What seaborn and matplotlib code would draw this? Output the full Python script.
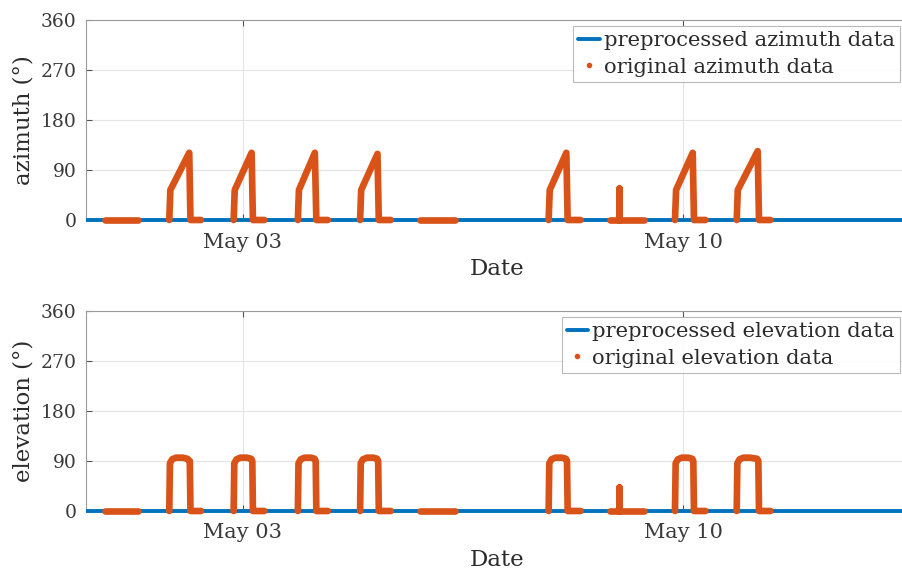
import numpy as np
import pandas as pd
import matplotlib
matplotlib.use("Agg")
import matplotlib.pyplot as plt
import matplotlib.dates as mdates
from matplotlib.lines import Line2D
import seaborn as sns

# ---- original azimuth samples (segment id, timestamp, degrees) ----
az_seg = [0, 0,
          1, 1, 1, 1, 1,
          2, 2, 2, 2, 2,
          3, 3, 3, 3, 3,
          4, 4, 4, 4, 4,
          5, 5,
          6, 6, 6, 6, 6,
          7, 7, 7, 7, 7, 7,
          8, 8, 8, 8, 8,
          9, 9, 9, 9, 9,
          10, 10]
az_time = ["2021-04-30 19:25", "2021-05-01 08:00",
           "2021-05-01 19:55", "2021-05-01 20:20", "2021-05-02 03:32", "2021-05-02 04:00", "2021-05-02 08:00",
           "2021-05-02 20:28", "2021-05-02 20:53", "2021-05-03 03:19", "2021-05-03 03:49", "2021-05-03 08:11",
           "2021-05-03 20:57", "2021-05-03 21:22", "2021-05-04 03:26", "2021-05-04 04:00", "2021-05-04 08:23",
           "2021-05-04 20:41", "2021-05-04 21:06", "2021-05-05 03:19", "2021-05-05 03:49", "2021-05-05 08:23",
           "2021-05-05 19:37", "2021-05-06 08:46",
           "2021-05-07 20:35", "2021-05-07 21:00", "2021-05-08 03:20", "2021-05-08 03:50", "2021-05-08 08:46",
           "2021-05-08 20:00", "2021-05-08 23:22", "2021-05-08 23:22", "2021-05-08 23:23", "2021-05-08 23:23", "2021-05-09 09:00",
           "2021-05-09 20:46", "2021-05-09 21:11", "2021-05-10 03:32", "2021-05-10 04:00", "2021-05-10 08:23",
           "2021-05-10 20:18", "2021-05-10 20:43", "2021-05-11 04:18", "2021-05-11 04:48", "2021-05-11 09:10",
           "2021-05-12 04:50", "2021-05-12 05:00"]
az_value = [0, 0,
            0, 54, 121, 0, 0,
            0, 54, 121, 0, 0,
            0, 54, 121, 0, 0,
            0, 54, 119, 0, 0,
            0, 0,
            0, 54, 121, 0, 0,
            0, 0, 57, 57, 0, 0,
            0, 54, 121, 0, 0,
            0, 54, 124, 0, 0,
            0, 0]

# ---- original elevation samples ----
el_seg = [0, 0,
          1, 1, 1, 1, 1, 1, 1, 1, 1,
          2, 2, 2, 2, 2, 2, 2, 2, 2,
          3, 3, 3, 3, 3, 3, 3, 3, 3,
          4, 4, 4, 4, 4, 4, 4, 4, 4,
          5, 5,
          6, 6, 6, 6, 6, 6, 6, 6, 6,
          7, 7, 7, 7, 7, 7,
          8, 8, 8, 8, 8, 8, 8, 8, 8,
          9, 9, 9, 9, 9, 9, 9, 9, 9,
          10, 10]
el_time = ["2021-04-30 19:25", "2021-05-01 08:00",
           "2021-05-01 19:55", "2021-05-01 20:10", "2021-05-01 21:00", "2021-05-01 22:30", "2021-05-02 01:00", "2021-05-02 02:50", "2021-05-02 03:45", "2021-05-02 04:00", "2021-05-02 08:00",
           "2021-05-02 20:28", "2021-05-02 20:43", "2021-05-02 21:33", "2021-05-02 23:03", "2021-05-03 01:33", "2021-05-03 03:10", "2021-05-03 03:35", "2021-05-03 03:49", "2021-05-03 08:11",
           "2021-05-03 20:57", "2021-05-03 21:12", "2021-05-03 22:02", "2021-05-03 23:32", "2021-05-04 02:02", "2021-05-04 03:20", "2021-05-04 03:45", "2021-05-04 04:00", "2021-05-04 08:23",
           "2021-05-04 20:41", "2021-05-04 20:56", "2021-05-04 21:46", "2021-05-04 23:16", "2021-05-05 01:46", "2021-05-05 03:10", "2021-05-05 03:35", "2021-05-05 03:49", "2021-05-05 08:23",
           "2021-05-05 19:37", "2021-05-06 08:46",
           "2021-05-07 20:35", "2021-05-07 20:50", "2021-05-07 21:40", "2021-05-07 23:10", "2021-05-08 01:40", "2021-05-08 03:10", "2021-05-08 03:35", "2021-05-08 03:50", "2021-05-08 08:46",
           "2021-05-08 20:00", "2021-05-08 23:22", "2021-05-08 23:22", "2021-05-08 23:23", "2021-05-08 23:23", "2021-05-09 09:00",
           "2021-05-09 20:46", "2021-05-09 21:01", "2021-05-09 21:51", "2021-05-09 23:21", "2021-05-10 01:51", "2021-05-10 03:20", "2021-05-10 03:45", "2021-05-10 04:00", "2021-05-10 08:23",
           "2021-05-10 20:18", "2021-05-10 20:33", "2021-05-10 21:23", "2021-05-10 22:53", "2021-05-11 01:23", "2021-05-11 04:05", "2021-05-11 04:33", "2021-05-11 04:48", "2021-05-11 09:10",
           "2021-05-12 04:50", "2021-05-12 05:00"]
el_value = [0, 0,
            0, 86, 93, 96, 96, 94, 90, 0, 0,
            0, 86, 93, 96, 96, 94, 90, 0, 0,
            0, 86, 93, 96, 96, 94, 90, 0, 0,
            0, 86, 93, 96, 96, 94, 90, 0, 0,
            0, 0,
            0, 86, 93, 96, 96, 94, 90, 0, 0,
            0, 0, 43, 43, 0, 0,
            0, 86, 93, 96, 96, 94, 90, 0, 0,
            0, 86, 93, 96, 96, 94, 90, 0, 0,
            0, 0]

# ---- preprocessed series (flat zero over the whole window) ----
pre_time = ["2021-04-30 12:10", "2021-05-13 14:00"]
pre_az = [0, 0]
pre_el = [0, 0]

y_ticks = [0, 90, 180, 270, 360]
x_ticks = ["2021-05-03", "2021-05-10"]
x_limits = ["2021-04-30 12:10", "2021-05-13 14:00"]

BLUE = "#0072BD"
ORANGE = "#D95319"
TEXT = "#2b2b2b"

sns.set_theme(style="white")
plt.rcParams["font.family"] = ["DejaVu Serif"]
plt.rcParams["text.color"] = TEXT
plt.rcParams["axes.labelcolor"] = TEXT
plt.rcParams["xtick.color"] = "#555555"
plt.rcParams["ytick.color"] = "#555555"
plt.rcParams["xtick.labelcolor"] = "#3a3a3a"
plt.rcParams["ytick.labelcolor"] = "#3a3a3a"

XTICK_FS = 15
YTICK_FS = 13.5
LABEL_FS = 16.5
LEGEND_FS = 15.2

fig = plt.figure(figsize=(9.03, 5.73), dpi=100)
W, H = 903, 573
ax_left = 86 / W
ax_width = 823 / W
ax_h = 200 / H
ax_top = fig.add_axes([ax_left, 1 - 220 / H, ax_width, ax_h])
ax_bot = fig.add_axes([ax_left, 1 - 511 / H, ax_width, ax_h])

panels = [
    (ax_top, pre_az, az_seg, az_time, az_value, "azimuth (°)", "azimuth", 26),
    (ax_bot, pre_el, el_seg, el_time, el_value, "elevation (°)", "elevation", 317),
]

for ax, pre_vals, seg, times, vals, ylabel, name, leg_top in panels:
    pre_df = pd.DataFrame({"time": pd.to_datetime(pre_time), "value": pre_vals})
    orig_df = pd.DataFrame({"seg": seg, "time": pd.to_datetime(times), "value": vals})

    # data lines sit above the axes frame, as in the original figure
    sns.lineplot(data=pre_df, x="time", y="value", ax=ax, color=BLUE,
                 linewidth=2.8, legend=False, zorder=3, clip_on=False,
                 solid_capstyle="butt")
    sns.lineplot(data=orig_df, x="time", y="value", units="seg", estimator=None,
                 sort=False, ax=ax, color=ORANGE, linewidth=4.8, legend=False,
                 zorder=4, clip_on=False,
                 solid_capstyle="round", solid_joinstyle="round")

    ax.set_xlim(pd.to_datetime(x_limits[0]), pd.to_datetime(x_limits[1]))
    ax.set_ylim(0, 360)
    ax.set_yticks(y_ticks)
    ax.set_xticks(pd.to_datetime(x_ticks))
    ax.xaxis.set_major_formatter(mdates.DateFormatter("%b %d"))
    ax.tick_params(axis="both", direction="in", length=4, width=0.8,
                   top=True, left=True, bottom=True, right=False)
    ax.tick_params(axis="y", pad=7, labelsize=YTICK_FS)
    ax.tick_params(axis="x", pad=9, labelsize=XTICK_FS)
    ax.grid(True, color="#e4e4e4", linewidth=0.8, zorder=0)
    ax.set_axisbelow(True)
    for side, sp in ax.spines.items():
        sp.set_color("#9a9a9a")
        sp.set_linewidth(0.8)
    ax.set_xlabel("Date", fontsize=LABEL_FS, labelpad=5)
    ax.set_ylabel(ylabel, fontsize=LABEL_FS, labelpad=4)

    handles = [
        Line2D([], [], color=BLUE, linewidth=2.8),
        Line2D([], [], color=ORANGE, linestyle="none", marker=".", markersize=6),
    ]
    labels = [f"preprocessed {name} data", f"original {name} data"]
    leg = ax.legend(handles, labels, loc="upper right",
                    bbox_to_anchor=(900 / W, 1 - leg_top / H),
                    bbox_transform=fig.transFigure, borderaxespad=0,
                    fontsize=LEGEND_FS, frameon=True, fancybox=False,
                    handlelength=1.0, handletextpad=0.2, borderpad=0.25,
                    labelspacing=0.35)
    leg.set_zorder(6)
    leg.get_frame().set_edgecolor("#a8a8a8")
    leg.get_frame().set_linewidth(0.8)

fig.savefig("out.png", dpi=100)
